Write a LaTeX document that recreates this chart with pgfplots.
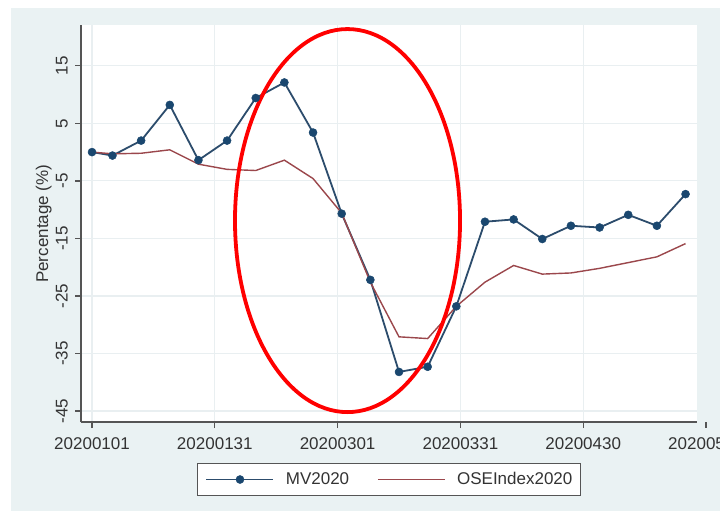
\documentclass[border=0pt]{standalone}
\usepackage{fontspec}
\setmainfont{Liberation Sans}
\usepackage{pgfplots}
\pgfplotsset{compat=1.18}

\definecolor{bgc}{HTML}{EAF2F3}
\definecolor{gridc}{HTML}{E9EFF1}
\definecolor{axisc}{HTML}{555555}
\definecolor{navy}{HTML}{1A476F}
\definecolor{navyline}{HTML}{2C4C6C}
\definecolor{maroon}{HTML}{9B474C}
\definecolor{txt}{HTML}{333333}

\pgfplotstableread{
day  mv     ose
0    0.0    0.0
5   -0.6   -0.3
12   2.0   -0.2
19   8.2    0.4
26  -1.4   -2.1
33   2.0   -3.0
40   9.4   -3.2
47  12.1   -1.4
54   3.4   -4.6
61 -10.7  -10.6
68 -22.2  -22.6
75 -38.2  -32.1
82 -37.3  -32.4
89 -26.8  -26.8
96 -12.1  -22.6
103 -11.7 -19.7
110 -15.1 -21.2
117 -12.8 -21.0
124 -13.1 -20.2
131 -10.9 -19.2
138 -12.8 -18.2
145  -7.3 -15.9
}\weekly

\begin{document}
\begin{tikzpicture}
\useasboundingbox (0,0) rectangle (720bp,-511bp);
\fill[white] (0,0) rectangle (720bp,-511bp);
\fill[bgc] (11bp,-8bp) rectangle (720bp,-511bp);
\begin{axis}[
  at={(81bp,-422bp)}, anchor=south west,
  scale only axis, width=616bp, height=396.5bp,
  xmin=-2.69, xmax=147.8, ymin=-46.9, ymax=22.0,
  axis background/.style={fill=white},
  axis x line=bottom, axis y line=left,
  axis line style={-, axisc, line width=1.3bp},
  tick align=outside, major tick length=6bp,
  tick style={axisc, line width=1.3bp},
  xtick={0,30,60,90,120},
  xticklabels={\mbox{20200101},\mbox{20200131},\mbox{20200301},\mbox{20200331},\mbox{20200430}},
  ytick={15,5,-5,-15,-25,-35,-45},
  /pgf/number format/assume math mode=true,
  every tick label/.append style={font=\fontsize{17bp}{20bp}\selectfont, text=txt},
  yticklabel style={rotate=90, anchor=south, inner sep=7bp},
  xticklabel style={anchor=north, inner sep=2bp, yshift=-7bp},
  grid=major, grid style={gridc, line width=1.2bp},
  every axis y label/.style={at={(axis description cs:-0.0605,0.5)}, rotate=90, anchor=center},
  ylabel={Percentage (\%)},
  label style={font=\fontsize{17bp}{20bp}\selectfont, text=txt},
  clip=false,
  legend style={at={(axis description cs:0.5,-0.1034)}, anchor=north,
    legend columns=2, draw=axisc, line width=1.2bp, fill=white,
    font=\fontsize{17bp}{20bp}\selectfont, text=txt,
    inner xsep=8bp, inner ysep=9bp,
    nodes={inner sep=0bp},
    column sep=11.5bp,
    /tikz/every even column/.append style={column sep=28bp}},
  legend cell align=left,
  legend image code/.code={\draw[mark repeat=2,mark phase=2,#1] plot coordinates {(0bp,0bp) (33.5bp,0bp) (67bp,0bp)};},
]
\addplot[navyline, line width=1.8bp, mark=*, mark size=4bp, mark options={fill=navy, draw=navy, line width=0.5bp}]
  table[x=day, y=mv] {\weekly};
\addlegendentry{MV2020}
\addplot[maroon, line width=1.4bp]
  table[x=day, y=ose] {\weekly};
\addlegendentry{OSEIndex2020\hspace{7bp}}
% annotation ellipse round the March crash
\draw[red, line width=3.8bp] (axis cs:62.42,-11.9) ellipse [x radius=27.49, y radius=33.28];
% the 20200530 tick sits just outside the axis line, as in the source
\draw[axisc, line width=1.3bp] (axis cs:150,-46.9) -- ++(0bp,-6bp);
\node[anchor=north, inner sep=2bp, font=\fontsize{17bp}{20bp}\selectfont, text=txt] at ([yshift=-13bp]axis cs:150,-46.9) {20200530};
\end{axis}
\end{tikzpicture}
\end{document}
